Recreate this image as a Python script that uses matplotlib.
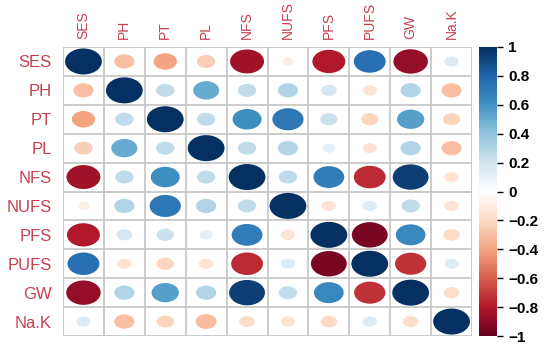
import matplotlib.pyplot as plt
import numpy as np
from matplotlib.colors import LinearSegmentedColormap
from matplotlib.patches import Ellipse

plt.rcParams['font.family'] = ['Liberation Sans', 'DejaVu Sans']

# variables
labels = ["SES", "PH", "PT", "PL", "NFS", "NUFS", "PFS", "PUFS", "GW", "Na.K"]

# correlation matrix
corr = np.array([
    [1.00, -0.30, -0.40, -0.25, -0.85, -0.10, -0.80,  0.75, -0.88,  0.15],
    [-0.30, 1.00,  0.25,  0.50,  0.25,  0.30,  0.18, -0.15,  0.30, -0.30],
    [-0.40, 0.25,  1.00,  0.25,  0.62,  0.72,  0.22, -0.22,  0.55, -0.22],
    [-0.25, 0.50,  0.25,  1.00,  0.25,  0.30,  0.12, -0.15,  0.30, -0.30],
    [-0.85, 0.25,  0.62,  0.25,  1.00,  0.25,  0.70, -0.75,  0.95, -0.15],
    [-0.10, 0.30,  0.72,  0.30,  0.25,  1.00, -0.15,  0.15,  0.25, -0.15],
    [-0.80, 0.18,  0.22,  0.12,  0.70, -0.15,  1.00, -0.95,  0.65, -0.20],
    [0.75, -0.15, -0.22, -0.15, -0.75,  0.15, -0.95,  1.00, -0.72,  0.15],
    [-0.88, 0.30,  0.55,  0.30,  0.95,  0.25,  0.65, -0.72,  1.00, -0.18],
    [0.15, -0.30, -0.22, -0.32, -0.18, -0.15, -0.20,  0.15, -0.18,  1.00],
])

cbar_ticks = np.round(np.arange(-1, 1.01, 0.2), 1)

# corrplot RdBu palette
cmap = LinearSegmentedColormap.from_list("rdbu", [
    "#67001F", "#B2182B", "#D6604D", "#F4A582", "#FDDBC7", "#FFFFFF",
    "#D1E5F0", "#92C5DE", "#4393C3", "#2166AC", "#053061"])

W, H = 550, 348
fig = plt.figure(figsize=(W / 100, H / 100), dpi=100)

# main grid (pixel positions)
gl, gt, gr, gb = 63, 47, 472, 336
ax = fig.add_axes([gl / W, 1 - gb / H, (gr - gl) / W, (gb - gt) / H])
n = len(labels)
ax.set_xlim(0, n)
ax.set_ylim(n, 0)

for i in range(n):
    for j in range(n):
        r = corr[i, j]
        s = 0.9 * np.sqrt(abs(r))
        ax.add_patch(Ellipse((j + 0.5, i + 0.5), s, s, facecolor=cmap((r + 1) / 2),
                             edgecolor="none"))

for k in range(n + 1):
    ax.axhline(k, color="#c4c4c4", lw=1.2, zorder=0)
    ax.axvline(k, color="#c4c4c4", lw=1.2, zorder=0)

for sp in ax.spines.values():
    sp.set_visible(False)

red = "#c8404e"
ax.set_xticks(np.arange(n) + 0.5)
ax.set_xticklabels(labels, rotation=90, color=red, fontsize=10)
ax.set_yticks(np.arange(n) + 0.5)
ax.set_yticklabels(labels, color=red, fontsize=12)
ax.xaxis.tick_top()
ax.tick_params(axis="x", length=0, pad=6)
ax.tick_params(axis="y", length=0, pad=8)

# colourbar
cl, cr = 479, 497
cax = fig.add_axes([cl / W, 1 - gb / H, (cr - cl) / W, (gb - gt) / H])
grad = np.linspace(-1, 1, 256).reshape(-1, 1)
cax.imshow(grad, cmap=cmap, aspect="auto", origin="lower", extent=[0, 1, -1, 1])
cax.set_xticks([])
cax.yaxis.tick_right()
cax.set_yticks(cbar_ticks)
cax.set_yticklabels(["0" if t == 0 else f"{t:g}".replace("-", "\u2212") for t in cbar_ticks],
                    fontsize=11, fontweight="bold")
cax.tick_params(axis="y", length=4, width=1, pad=4)
for sp in cax.spines.values():
    sp.set_visible(False)

fig.savefig("out.png", dpi=100)
